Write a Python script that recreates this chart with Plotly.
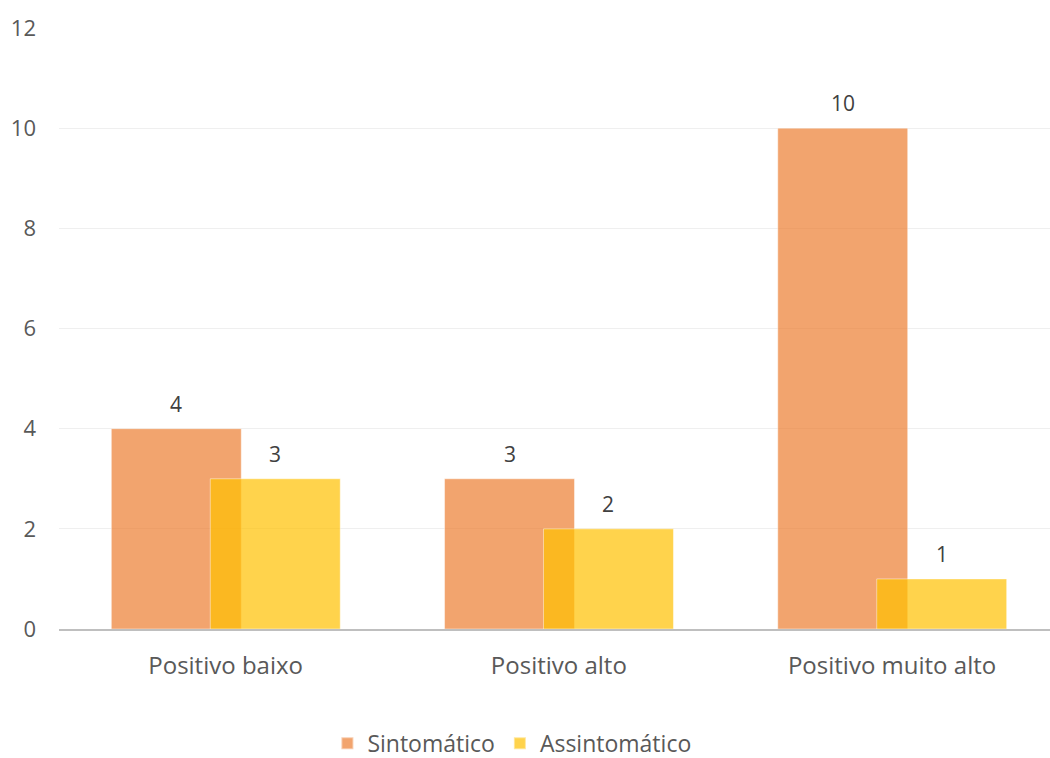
import plotly.graph_objects as go

# Chart data
categories = ["Positivo baixo", "Positivo alto", "Positivo muito alto"]
sintomatico = [4, 3, 10]
assintomatico = [3, 2, 1]
series_names = ["Sintomático", "Assintomático"]
y_ticks = [0, 2, 4, 6, 8, 10, 12]

FONT = "Open Sans, Liberation Sans, sans-serif"
BAR_W = 0.39
OFFSETS = [-0.343, -0.046]
COLORS = ["rgba(237,125,49,0.7)", "rgba(255,192,0,0.7)"]

x_pos = list(range(len(categories)))

fig = go.Figure()
for name, vals, off, col in zip(series_names, [sintomatico, assintomatico], OFFSETS, COLORS):
    fig.add_trace(go.Bar(
        x=x_pos, y=vals, name=name,
        width=BAR_W, offset=off,
        marker=dict(color=col, line=dict(color="rgba(255,255,255,0.45)", width=1)),
        hoverinfo="y+name",
    ))
    # value labels above each bar
    for xi, v in zip(x_pos, vals):
        fig.add_annotation(
            x=xi + off + BAR_W / 2, y=v, text=str(v), showarrow=False,
            yanchor="middle", yshift=25,
            font=dict(family=FONT, size=21, color="#404040"),
        )

fig.update_layout(
    barmode="overlay",
    width=1050, height=758,
    margin=dict(l=59, r=0, t=28, b=129, autoexpand=False),
    paper_bgcolor="white", plot_bgcolor="white",
    font=dict(family=FONT, color="#595959"),
    showlegend=True,
    legend=dict(
        orientation="h", x=0.457, xanchor="center", y=-0.19, yanchor="middle",
        font=dict(family=FONT, size=23, color="#595959"),
        itemsizing="constant", traceorder="normal",
    ),
    xaxis=dict(
        range=[-0.5, 2.474], tickvals=x_pos, ticktext=categories,
        showgrid=False, zeroline=False,
        showline=True, linecolor="#BFBFBF", linewidth=2,
        ticks="", ticklabelstandoff=14,
        tickfont=dict(family=FONT, size=24, color="#595959"),
    ),
    yaxis=dict(
        range=[0, 12], tickvals=y_ticks,
        showgrid=True, gridcolor="#EFEFEF", gridwidth=1,
        zeroline=False, showline=False, ticks="",
        ticklabelstandoff=22,
        tickfont=dict(family=FONT, size=22, color="#595959"),
    ),
)

fig.write_html("out.html")
